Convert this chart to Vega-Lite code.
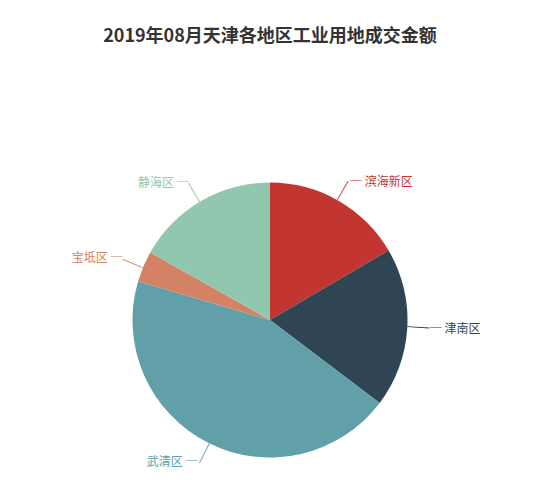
{
  "$schema": "https://vega.github.io/schema/vega-lite/v6.json",
  "width": 540,
  "height": 540,
  "autosize": {"type": "none"},
  "padding": {"left": 0, "top": 50, "right": 10, "bottom": 0},
  "background": "white",
  "title": {
    "text": "2019年08月天津各地区工业用地成交金额",
    "anchor": "middle",
    "font": "Noto Sans CJK SC",
    "fontSize": 18,
    "fontWeight": "bold",
    "color": "#333333",
    "offset": 4
  },
  "data": {
    "values": [
      {"district": "滨海新区", "amount": 59.6},
      {"district": "津南区", "amount": 67.5},
      {"district": "武清区", "amount": 159.3},
      {"district": "宝坻区", "amount": 13.0},
      {"district": "静海区", "amount": 60.6}
    ]
  },
  "transform": [
    {"window": [{"op": "row_number", "as": "rank"}]},
    {"joinaggregate": [{"op": "sum", "field": "amount", "as": "total"}]}
  ],
  "encoding": {
    "theta": {"field": "amount", "type": "quantitative", "stack": true},
    "order": {"field": "rank", "type": "quantitative"},
    "color": {
      "field": "district",
      "type": "nominal",
      "scale": {
        "domain": ["滨海新区", "津南区", "武清区", "宝坻区", "静海区"],
        "range": ["#c23531", "#2f4554", "#61a0a8", "#d48265", "#91c7ae"]
      },
      "legend": null
    }
  },
  "layer": [
    {"mark": {"type": "arc", "radius": 137.5}},
    {
      "mark": {
        "type": "text",
        "radius": 148.5,
        "text": "─",
        "font": "Noto Sans CJK SC",
        "fontSize": 22,
        "angle": {"expr": "(datum.amount_start + datum.amount_end) / datum.total * 180 - 90"}
      }
    },
    {
      "mark": {
        "type": "text",
        "radius": 159,
        "font": "Noto Sans CJK SC",
        "fontSize": 12,
        "dx": {"expr": "(datum.amount_start + datum.amount_end) / datum.total * 180 < 180 ? 1 : -1"},
        "align": {"expr": "(datum.amount_start + datum.amount_end) / datum.total * 180 < 180 ? 'left' : 'right'"},
        "text": {"expr": "(datum.amount_start + datum.amount_end) / datum.total * 180 < 180 ? '─ ' + datum.district : datum.district + ' ─'"}
      }
    }
  ]
}
